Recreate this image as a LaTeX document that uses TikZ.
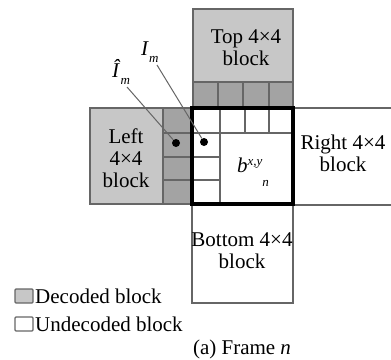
\documentclass[tikz,border=0pt]{standalone}
\usepackage{fontspec}
\setmainfont{Liberation Serif}
\usetikzlibrary{positioning}
\definecolor{cdecode}{gray}{0.78}
\definecolor{ccellule}{gray}{0.64}
\definecolor{ctrait}{gray}{0.40}
\newcommand{\petit}{\fontsize{13}{13}\selectfont\itshape}

\begin{document}
\begin{tikzpicture}[x=1pt, y=-1pt,
    bloc/.style={draw=ctrait, line width=1.3pt},
    grille/.style={draw=ctrait, line width=1.1pt},
    et/.style={font=\fontsize{21}{22}\selectfont, align=center, inner sep=0pt},
    pt/.style={circle, fill, inner sep=0pt, minimum size=8pt},
    fil/.style={draw=ctrait, line width=1pt}]
  \useasboundingbox (0,0) rectangle (391,359);

  % --- left block ---
  \filldraw[bloc, fill=cdecode] (90,108) rectangle (192,204);
  \filldraw[grille, fill=ccellule] (163,108) rectangle (192,204);
  \foreach \y in {133,157,180} \draw[grille] (163,\y) -- (192,\y);
  \node[et] (gauche) at (126,158) {Left\\4×4\\block};

  % --- top block ---
  \filldraw[bloc, fill=cdecode] (193,9) rectangle (293,108);
  \filldraw[grille, fill=ccellule] (193,82) rectangle (293,108);
  \foreach \x in {218,243,269} \draw[grille] (\x,82) -- (\x,108);
  \node[et] (haut) at (246,48) {Top 4×4\\block};

  % --- right and bottom blocks ---
  \draw[bloc] (391,108) -- (293,108) -- (293,205) -- (391,205);
  \node[et] (droite) at (343,153) {Right 4×4\\block};
  \draw[bloc] (192,204) rectangle (293,303);
  \node[et] (bas) at (242,251) {Bottom 4×4\\block};

  % --- current block ---
  \draw[grille] (192,133) -- (293,133);
  \foreach \x in {220,245,269} \draw[grille] (\x,108) -- (\x,133);
  \draw[grille] (220,133) -- (220,204);
  \foreach \y in {157,180} \draw[grille] (192,\y) -- (220,\y);
  \draw[line width=4.5pt] (192,108) rectangle (293,204);
  \node[et, anchor=base west] (courant) at (237,172)
    {\textit{b}\raisebox{7pt}{\petit x,y}\raisebox{-14pt}{\petit n}};

  % --- pixels ---
  \node[pt] (pg) at (176,143) {};
  \node[pt] (pd) at (204,142) {};
  \node[et, anchor=base west] (im) at (141,55)
    {\textit{I}\raisebox{-7pt}{\petit m}};
  \node[et, anchor=base west] (imh) at (112,77)
    {\textit{Î}\raisebox{-7pt}{\petit m}};
  \coordinate (im pied) at (157,65);
  \coordinate (imh pied) at (127,87);
  \draw[fil] (im pied) -- (pd);
  \draw[fil] (imh pied) -- (pg);

  % --- legend ---
  \filldraw[grille, fill=cdecode, rounded corners=1pt] (15,289) rectangle (33,303);
  \node[et, anchor=west] (dec) at (35,296) {Decoded block};
  \draw[grille, rounded corners=1pt] (15,317) rectangle (33,331);
  \node[et, anchor=west] (nondec) at (35,324) {Undecoded block};
  \node[et] (titre) at (242,349) {(a) Frame \textit{n}};
\end{tikzpicture}
\end{document}
